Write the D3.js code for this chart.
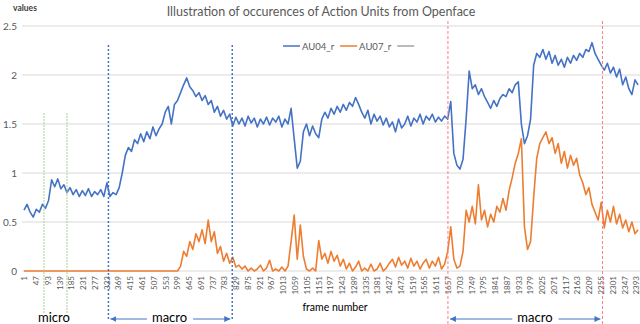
<!DOCTYPE html>
<meta charset="utf-8">
<style>
body { margin: 0; background: #fff; }
text { font-family: Lato, "Open Sans", sans-serif; fill: #595959; }
.grid line { stroke: #d9d9d9; stroke-width: 1; }
.line { fill: none; stroke-width: 1.6; stroke-linejoin: round; }
</style>
<body>
<script src="https://d3js.org/d3.v7.min.js"></script>
<script>

// frame numbers printed under the x axis
var frameTicks = [1,47,93,139,185,231,277,323,369,415,461,507,553,599,645,691,737,783,
  829,875,921,967,1013,1059,1105,1151,1197,1243,1289,1335,1381,1427,1473,1519,1565,1611,
  1657,1703,1749,1795,1841,1887,1933,1979,2025,2071,2117,2163,2209,2255,2301,2347,2393];

var yTicks = [0, 0.5, 1, 1.5, 2, 2.5];

// one sample every 12 frames, starting at frame 1
var step = 12;

var au04 = [
  0.62,0.68,0.6,0.55,0.63,0.6,0.68,0.64,0.72,0.93,
  0.86,0.94,0.84,0.88,0.8,0.85,0.78,0.83,0.76,0.82,
  0.77,0.84,0.76,0.81,0.78,0.83,0.76,0.9,0.76,0.8,
  0.78,0.85,1.0,1.18,1.26,1.22,1.34,1.3,1.4,1.32,
  1.42,1.35,1.47,1.38,1.45,1.5,1.62,1.68,1.5,1.7,
  1.74,1.82,1.9,1.97,1.88,1.84,1.78,1.82,1.74,1.79,
  1.7,1.74,1.62,1.68,1.58,1.64,1.55,1.6,1.48,1.57,
  1.5,1.56,1.48,1.58,1.51,1.56,1.47,1.55,1.5,1.57,
  1.49,1.56,1.52,1.58,1.47,1.55,1.5,1.66,1.35,1.05,
  1.12,1.42,1.5,1.38,1.48,1.4,1.36,1.55,1.62,1.56,
  1.66,1.6,1.68,1.62,1.7,1.64,1.72,1.68,1.77,1.7,
  1.62,1.56,1.64,1.5,1.6,1.53,1.58,1.49,1.56,1.47,
  1.52,1.42,1.55,1.46,1.5,1.58,1.48,1.56,1.52,1.6,
  1.5,1.58,1.54,1.6,1.52,1.57,1.53,1.58,1.55,1.73,
  1.2,1.08,1.04,1.14,1.55,2.04,1.86,1.9,1.8,1.86,
  1.78,1.72,1.66,1.74,1.68,1.76,1.8,1.78,1.86,1.82,
  1.9,1.93,1.5,1.3,1.38,1.55,2.1,2.22,2.18,2.26,
  2.16,2.24,2.12,2.2,2.1,2.16,2.08,2.18,2.12,2.2,
  2.15,2.22,2.18,2.26,2.24,2.33,2.22,2.16,2.1,2.05,
  2.12,2.02,2.08,1.98,2.06,1.9,1.98,1.86,1.8,1.95,
  1.9
];

var au07 = [
  0,0,0,0,0,0,0,0,0,0,
  0,0,0,0,0,0,0,0,0,0,
  0,0,0,0,0,0,0,0,0,0,
  0,0,0,0,0,0,0,0,0,0,
  0,0,0,0,0,0,0,0,0,0,
  0,0.05,0.2,0.15,0.3,0.22,0.38,0.3,0.42,0.28,
  0.52,0.3,0.4,0.18,0.25,0.1,0.18,0.08,0.14,0.04,
  0.06,0.02,0.05,0,0.03,0,0.02,0.06,0,0.03,
  0.11,0,0.02,0,0.04,0,0.05,0.3,0.57,0.12,
  0.47,0.15,0.02,0,0.03,0,0.31,0.12,0.18,0.08,
  0.2,0.1,0.16,0.05,0.12,0.02,0.08,0,0.04,0.1,
  0,0.03,0,0.07,0,0.02,0.08,0,0.03,0.08,
  0.12,0.04,0.14,0.06,0.1,0.03,0.13,0.05,0.1,0.02,
  0.08,0.12,0.03,0.1,0.05,0.14,0.02,0.07,0.2,0.45,
  0.12,0.03,0.05,0.2,0.62,0.5,0.66,0.48,0.88,0.52,
  0.62,0.45,0.58,0.5,0.66,0.6,0.74,0.62,0.82,0.95,
  1.1,1.2,1.35,0.45,0.22,0.3,0.75,1.15,1.3,1.36,
  1.42,1.3,1.36,1.2,1.3,1.1,1.22,1.05,1.18,1.08,
  1.15,0.98,0.9,0.78,0.85,0.68,0.6,0.52,0.7,0.44,
  0.62,0.5,0.66,0.48,0.58,0.44,0.52,0.4,0.5,0.38,
  0.42
];

var seriesNames = ["AU04_r", "AU07_r", ""];
var seriesColors = ["#4472C4", "#ED7D31", "#A5A5A5"];

// marker lines (frame numbers) and the labels under them
var microFrames = [79, 169];
var macro1Frames = [331, 815];
var macro2Frames = [1658, 2262];
var notes = [
  {label: "micro", frame: 118, arrows: false},
  {label: "macro", frame: 570, arrows: true, span: macro1Frames},
  {label: "macro", frame: 1998, arrows: true, span: macro2Frames}
];

var width = 640, height = 324;

var x = d3.scaleLinear().domain([1, 2393]).range([24, 636]);
var y = d3.scaleLinear().domain([0, 2.5]).range([271, 26]);

var svg = d3.select("body").append("svg")
    .attr("width", width)
    .attr("height", height);

svg.append("defs").append("marker")
    .attr("id", "arr")
    .attr("viewBox", "0 0 6 6")
    .attr("refX", 6).attr("refY", 3)
    .attr("markerWidth", 6).attr("markerHeight", 6)
    .attr("markerUnits", "userSpaceOnUse")
    .attr("orient", "auto")
  .append("path")
    .attr("d", "M0,0L6,3L0,6Z")
    .attr("fill", "#4472C4");

// gridlines
svg.append("g").attr("class", "grid")
  .selectAll("line").data(yTicks).enter().append("line")
    .attr("x1", 22).attr("x2", width)
    .attr("y1", function(d) { return y(d); })
    .attr("y2", function(d) { return y(d); });

// y axis labels
var yAxis = svg.append("g")
    .attr("transform", "translate(22,0)")
    .call(d3.axisLeft(y).tickValues(yTicks).tickSize(0).tickPadding(5).tickFormat(d3.format("")));
yAxis.select(".domain").remove();
yAxis.selectAll("text").style("font-size", "10px").style("font-family", "Lato, sans-serif").attr("fill", "#595959");

// x axis labels, rotated
var xAxis = svg.append("g")
    .attr("transform", "translate(0," + y(0) + ")")
    .call(d3.axisBottom(x).tickValues(frameTicks).tickSize(0).tickFormat(d3.format("d")));
xAxis.select(".domain").remove();
xAxis.selectAll("text")
    .attr("transform", "rotate(-90)")
    .attr("x", -5).attr("y", 0).attr("dy", "0.35em")
    .style("text-anchor", "end")
    .style("font-size", "8px")
    .style("font-family", "Lato, sans-serif")
    .attr("fill", "#595959");

// series
var line = d3.line()
    .x(function(d, i) { return x(1 + step * i); })
    .y(function(d) { return y(d); });

[au04, au07].forEach(function(s, k) {
  svg.append("path")
      .datum(s)
      .attr("class", "line")
      .style("stroke", seriesColors[k])
      .attr("d", line);
});

// vertical marker lines
function vlines(frames, color, dash, top, bottom, w) {
  svg.selectAll(null).data(frames).enter().append("line")
      .attr("x1", function(d) { return x(d); })
      .attr("x2", function(d) { return x(d); })
      .attr("y1", top).attr("y2", bottom)
      .attr("stroke", color)
      .attr("stroke-width", w)
      .attr("stroke-dasharray", dash);
}
vlines(microFrames, "#A9D18E", "2,1", 113, 313, 1);
vlines(macro1Frames, "#4472C4", "2,2", 45, 320, 1.5);
vlines(macro2Frames, "#FF7C80", "3,2", 21, 324, 1);

// labels under the axis, with arrows for the macro spans
notes.forEach(function(n) {
  var t = svg.append("text")
      .attr("x", x(n.frame))
      .attr("y", 322)
      .attr("text-anchor", "middle")
      .style("font-size", "13px")
      .style("fill", "#000")
      .text(n.label);
  if (!n.arrows) return;
  var w = t.node().getComputedTextLength();
  var l = x(n.frame) - w / 2 - 5, r = x(n.frame) + w / 2 + 6;
  svg.append("line")
      .attr("x1", l).attr("x2", x(n.span[0]) + 2)
      .attr("y1", 319).attr("y2", 319)
      .attr("stroke", "#4472C4").attr("stroke-width", 1)
      .attr("marker-end", "url(#arr)");
  svg.append("line")
      .attr("x1", r).attr("x2", x(n.span[1]) - 2)
      .attr("y1", 319).attr("y2", 319)
      .attr("stroke", "#4472C4").attr("stroke-width", 1)
      .attr("marker-end", "url(#arr)");
});

// titles
svg.append("text")
    .attr("x", 321).attr("y", 16)
    .attr("text-anchor", "middle")
    .style("font-size", "12.5px")
    .text("Illustration of occurences of Action Units from Openface");

svg.append("text")
    .attr("x", 13).attr("y", 11)
    .style("font-size", "8.5px")
    .style("font-weight", "bold")
    .style("fill", "#404040")
    .text("values");

svg.append("text")
    .attr("x", 335).attr("y", 311)
    .attr("text-anchor", "middle")
    .style("font-size", "10.5px")
    .style("fill", "#000")
    .text("frame number");

// legend
var lx = 283;
seriesNames.forEach(function(name, k) {
  svg.append("line")
      .attr("x1", lx).attr("x2", lx + 17)
      .attr("y1", 46).attr("y2", 46)
      .attr("stroke", seriesColors[k]).attr("stroke-width", 1.5);
  var t = svg.append("text")
      .attr("x", lx + 19).attr("y", 49.5)
      .style("font-size", "9.5px")
      .text(name);
  lx += 19 + t.node().getComputedTextLength() + 6;
});

</script>
</body>
